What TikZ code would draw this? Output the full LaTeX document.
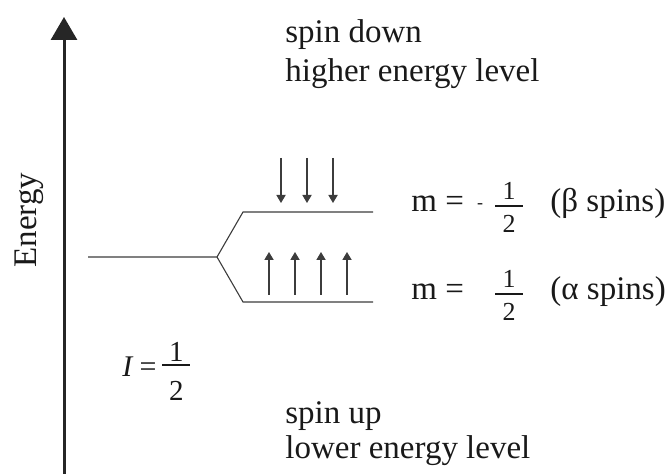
\documentclass[tikz,border=0pt]{standalone}
\usepackage{fontspec}
\setmainfont{Liberation Serif}
\usepackage{xcolor}
\usetikzlibrary{arrows.meta}
\definecolor{inkline}{RGB}{60,60,60}
\definecolor{inktext}{RGB}{25,25,25}
% #1 digit size, #2 numerator raise, #3 bar raise, #4 denominator drop
\newcommand{\halfsym}[4]{\makebox[14pt]{\fontsize{#1}{#1}\selectfont
  \rlap{\raisebox{#2}{\makebox[14pt]{1}}}\rlap{\raisebox{#3}{\rule{14pt}{0.7pt}}}\raisebox{-#4}{\makebox[14pt]{2}}}}

\begin{document}
\begin{tikzpicture}[x=0.5pt, y=-0.5pt, font=\fontsize{16.5}{18}\selectfont, text=inktext,
  lvl/.style={draw=inkline, line width=0.55pt},
  spin/.style={draw=inkline, line width=0.55pt, -{Triangle[length=4pt, width=4.6pt]}},
  axis/.style={draw=black!85, line width=1.5pt, -{Triangle[length=11.5pt, width=13pt]}},
  lbl/.style={anchor=base west, inner sep=0pt},
  frc/.style={anchor=base, inner sep=0pt}]
  \useasboundingbox (0,0) rectangle (672,474);
  \coordinate (ebot) at (64,474); \coordinate (etop) at (64,17);
  \draw[axis] (ebot) -- (etop);
  \node[rotate=90, anchor=base, inner sep=0pt] (elabel) at (36,220) {Energy};
  \coordinate (l0) at (88,257); \coordinate (split) at (217,257);
  \coordinate (bstart) at (243,212); \coordinate (bend) at (373,212);
  \coordinate (astart) at (243,302); \coordinate (aend) at (373,302);
  \draw[lvl] (l0) -- (split) -- (bstart) -- (bend); \draw[lvl] (split) -- (astart) -- (aend);
  \foreach \x in {281,307,333} {\draw[spin] (\x,158) -- (\x,203);}
  \foreach \x in {269,295,321,347} {\draw[spin] (\x,295) -- (\x,252);}
  \node[lbl] (sdown) at (285,43) {spin down};
  \node[lbl] (shigh) at (285,82) {higher energy level};
  \node[lbl] (sup) at (285,423) {spin up};
  \node[lbl] (slow) at (285,458) {lower energy level};
  \node[lbl] (mbeta) at (411,212) {m =};
  \node[frc] (dash) at (480,209) {\fontsize{9}{10}\selectfont -};
  \node[frc] (fbeta) at (509,212) {\halfsym{13}{6pt}{2.7pt}{10.5pt}};
  \node[lbl] (sbeta) at (550,212) {(β spins)};
  \node[lbl] (malpha) at (411,300) {m =};
  \node[frc] (falpha) at (509,300) {\halfsym{13}{6pt}{2.7pt}{10.5pt}};
  \node[lbl] (salpha) at (550,300) {(α spins)};
  \node[lbl] (ival) at (122,377) {\fontsize{15}{16}\selectfont\textit{I}\hspace{3pt}=\hspace{3pt}\halfsym{14.5}{7.5pt}{5.7pt}{11.5pt}};
\end{tikzpicture}
\end{document}
